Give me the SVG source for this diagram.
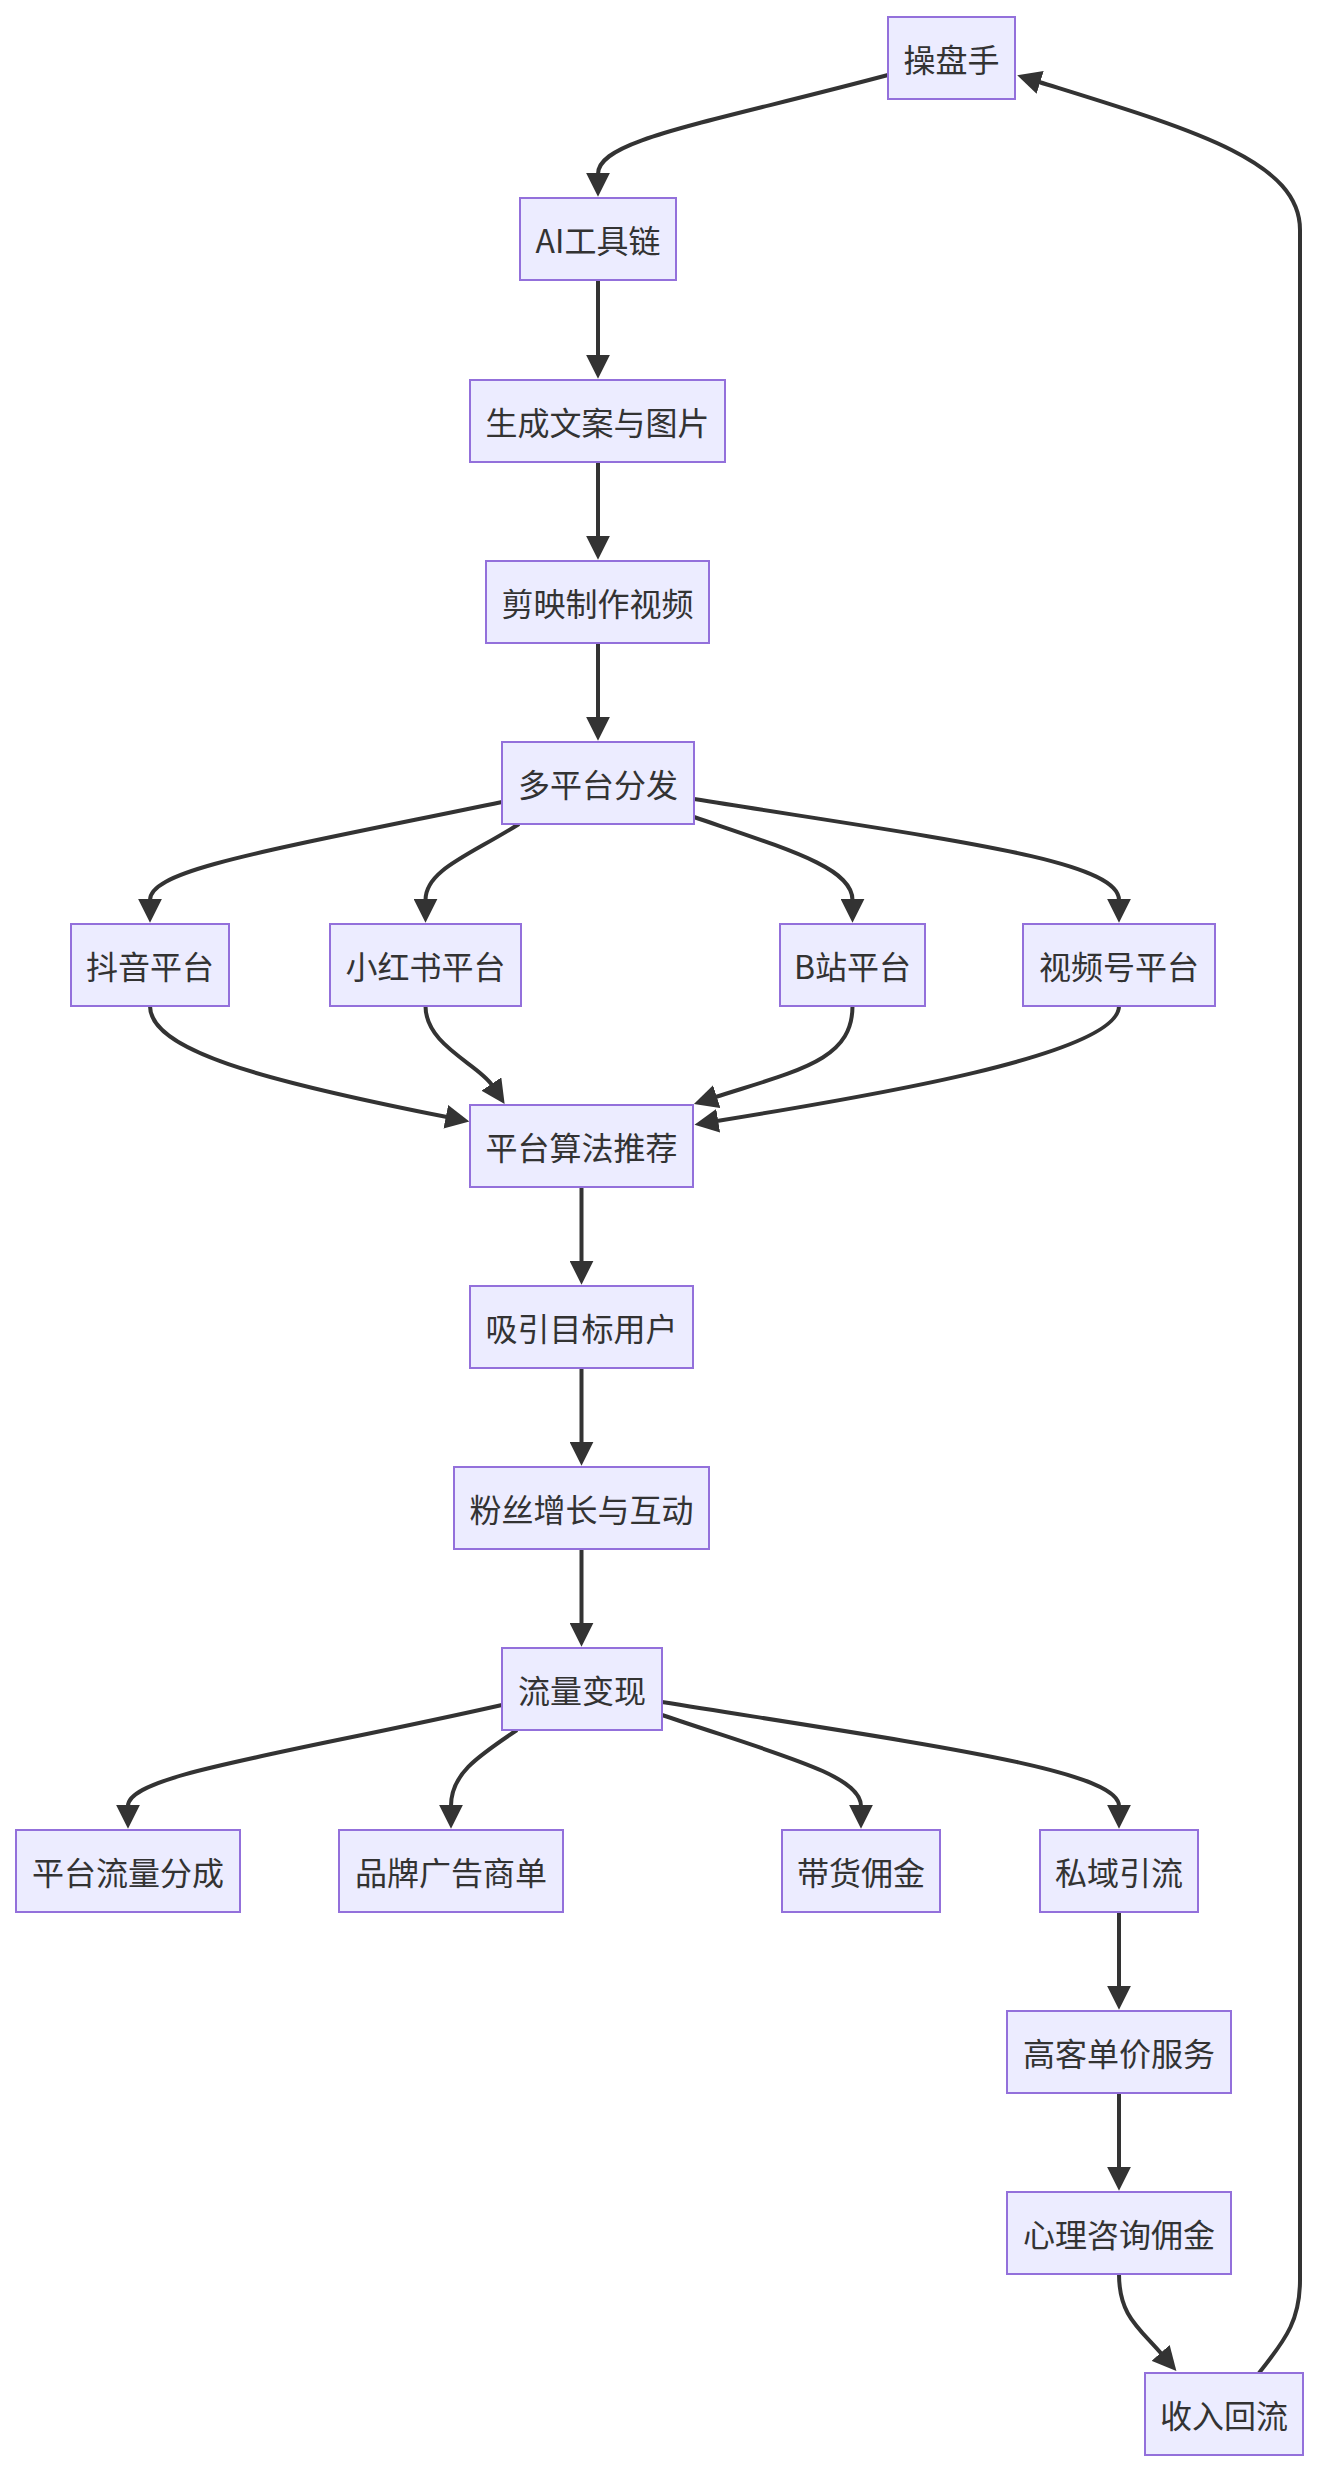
<svg xmlns="http://www.w3.org/2000/svg" width="1320" height="2470" viewBox="0 0 1320 2470">
<defs>
<style>
.node rect{fill:#ECECFF;stroke:#9370DB;stroke-width:2}
.node text{font-family:"Noto Sans CJK SC","Noto Sans",sans-serif;font-size:32px;fill:#333;text-anchor:middle;dominant-baseline:central}
.edges path{fill:none;stroke:#333;stroke-width:4;marker-end:url(#arrow)}
</style>
<marker id="arrow" viewBox="0 0 10 10" refX="0.5" refY="5" markerUnits="userSpaceOnUse" markerWidth="24" markerHeight="24" orient="auto">
<path d="M0,0 L10,5 L0,10 z" fill="#333"/>
</marker>
</defs>
<rect width="1320" height="2470" fill="#fff"/>
<g class="edges">
<path d="M888,75 C700,125 598,140 598,174"/>
<path d="M598,280 L598,356"/>
<path d="M598,462 L598,537"/>
<path d="M598,643 L598,718"/>
<path d="M502,802 C260,852 150,870 150,900"/>
<path d="M519,824 C470,855 425.5,870 425.5,900"/>
<path d="M694,817 C790,850 852.5,868 852.5,900"/>
<path d="M694,799 C950,840 1119,860 1119,900"/>
<path d="M150,1006 C150,1050 260,1080 447,1117"/>
<path d="M425.5,1006 C425.5,1045 478,1064 492,1085"/>
<path d="M852.5,1006 C852.5,1060 800,1070 715.6,1097"/>
<path d="M1119,1006 C1119,1055 865,1097 717,1121"/>
<path d="M581.5,1187 L581.5,1262"/>
<path d="M581.5,1368 L581.5,1443"/>
<path d="M581.5,1549 L581.5,1624"/>
<path d="M502,1705 C280,1755 128,1775 128,1806"/>
<path d="M517,1730 C475,1758 451,1775 451,1806"/>
<path d="M662,1715 C780,1755 861,1775 861,1806"/>
<path d="M662,1702 C930,1745 1119,1770 1119,1806"/>
<path d="M1119,1911 L1119,1987"/>
<path d="M1119,2092 L1119,2168"/>
<path d="M1119,2274 C1119,2315 1138,2327 1161.4,2353.8"/>
<path d="M1259,2373 C1288,2337 1300,2318 1300,2280 L1300,230 C1300,160 1190,129 1039,82"/>
</g>
<g id="n-caopanshou" class="node"><rect x="888" y="17" width="127" height="82"/><text x="951.5" y="58">操盘手</text></g>
<g id="n-ai" class="node"><rect x="520" y="198" width="156" height="82"/><text x="598" y="239">AI工具链</text></g>
<g id="n-shengcheng" class="node"><rect x="470" y="380" width="255" height="82"/><text x="597.5" y="421">生成文案与图片</text></g>
<g id="n-jianying" class="node"><rect x="486" y="561" width="223" height="82"/><text x="597.5" y="602">剪映制作视频</text></g>
<g id="n-duopingtai" class="node"><rect x="502" y="742" width="192" height="82"/><text x="598" y="783">多平台分发</text></g>
<g id="n-douyin" class="node"><rect x="71" y="924" width="158" height="82"/><text x="150" y="965">抖音平台</text></g>
<g id="n-xiaohongshu" class="node"><rect x="330" y="924" width="191" height="82"/><text x="425.5" y="965">小红书平台</text></g>
<g id="n-bilibili" class="node"><rect x="780" y="924" width="145" height="82"/><text x="852.5" y="965">B站平台</text></g>
<g id="n-shipinhao" class="node"><rect x="1023" y="924" width="192" height="82"/><text x="1119" y="965">视频号平台</text></g>
<g id="n-suanfa" class="node"><rect x="470" y="1105" width="223" height="82"/><text x="581.5" y="1146">平台算法推荐</text></g>
<g id="n-xiyin" class="node"><rect x="470" y="1286" width="223" height="82"/><text x="581.5" y="1327">吸引目标用户</text></g>
<g id="n-fensi" class="node"><rect x="454" y="1467" width="255" height="82"/><text x="581.5" y="1508">粉丝增长与互动</text></g>
<g id="n-bianxian" class="node"><rect x="502" y="1648" width="160" height="82"/><text x="582" y="1689">流量变现</text></g>
<g id="n-fencheng" class="node"><rect x="16" y="1830" width="224" height="82"/><text x="128" y="1871">平台流量分成</text></g>
<g id="n-guanggao" class="node"><rect x="339" y="1830" width="224" height="82"/><text x="451" y="1871">品牌广告商单</text></g>
<g id="n-daihuo" class="node"><rect x="782" y="1830" width="158" height="82"/><text x="861" y="1871">带货佣金</text></g>
<g id="n-siyu" class="node"><rect x="1040" y="1830" width="158" height="82"/><text x="1119" y="1871">私域引流</text></g>
<g id="n-gaokedan" class="node"><rect x="1007" y="2011" width="224" height="82"/><text x="1119" y="2052">高客单价服务</text></g>
<g id="n-xinli" class="node"><rect x="1007" y="2192" width="224" height="82"/><text x="1119" y="2233">心理咨询佣金</text></g>
<g id="n-shouru" class="node"><rect x="1145" y="2373" width="158" height="82"/><text x="1224" y="2414">收入回流</text></g>
</svg>
